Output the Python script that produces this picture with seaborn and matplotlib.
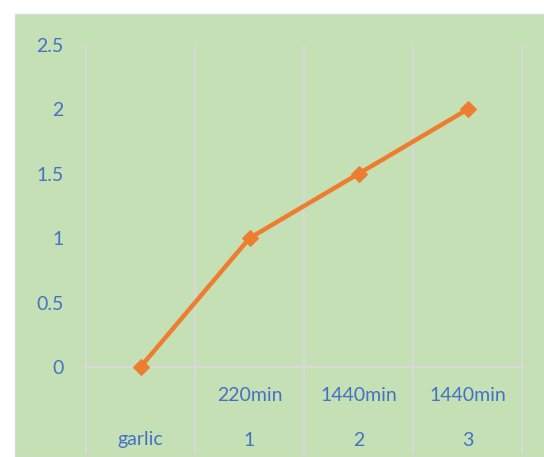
import matplotlib
matplotlib.use("Agg")
import matplotlib.pyplot as plt
import matplotlib.transforms as mtransforms
from matplotlib.patches import Rectangle
import seaborn as sns
import pandas as pd

# chart data
categories = ["garlic", "1", "2", "3"]
times = ["", "220min", "1440min", "1440min"]
values = [0, 1, 1.5, 2]
y_ticks = [0, 0.5, 1, 1.5, 2, 2.5]
y_labels = ["0", "0.5", "1", "1.5", "2", "2.5"]

sns.set_style("white")
plt.rcParams["font.family"] = ["Lato", "DejaVu Sans"]

green = "#C5E0B4"
grid = "#D9D9D9"
blue = "#4472C4"
orange = "#ED7D31"

fig = plt.figure(figsize=(5.44, 4.57), dpi=100)
fig.patch.set_facecolor("white")
fig.patches.append(Rectangle((15 / 544, 0), 1, (457 - 14) / 457,
                             transform=fig.transFigure, facecolor=green,
                             edgecolor=grid, linewidth=1, zorder=-10))

# plot area in pixels: x 86..522, y 45..367
ax = fig.add_axes([86 / 544, (457 - 367) / 457, (522 - 86) / 544, (367 - 45) / 457])
ax.set_facecolor("none")
ax.set_zorder(5)

df = pd.DataFrame({"cat": categories, "val": values})
sns.lineplot(data=df, x="cat", y="val", ax=ax, color=orange, linewidth=3.2,
             marker="D", markersize=8.5, markeredgecolor=orange, sort=False,
             zorder=5, clip_on=False)

ax.set_xlim(-0.5, len(categories) - 0.5)
ax.set_ylim(0, 2.5)
ax.set_yticks(y_ticks)
ax.set_yticklabels(y_labels)
ax.set_xticks(range(len(categories)))
ax.set_xticklabels([])
ax.tick_params(axis="y", length=0, pad=16, labelsize=14, labelcolor=blue)
ax.tick_params(axis="x", length=0)
ax.set_xlabel("")
ax.set_ylabel("")

for s in ["top", "right", "left"]:
    ax.spines[s].set_visible(False)
ax.spines["bottom"].set_color(grid)
ax.spines["bottom"].set_linewidth(1.5)

# category separators run down through the label area
for xb in [i - 0.5 for i in range(len(categories) + 1)]:
    ax.plot([xb, xb], [2.5, -0.675], color=grid, linewidth=1.5,
            clip_on=False, zorder=1)

trans = mtransforms.blended_transform_factory(ax.transData, ax.transAxes)
for i, (c, t) in enumerate(zip(categories, times)):
    ax.text(i, -28.5 / 322, t, transform=trans, ha="center", va="center",
            fontsize=14, color=blue)
    ax.text(i, -73 / 322, c, transform=trans, ha="center", va="center",
            fontsize=14, color=blue)

fig.savefig("out.png", dpi=100)
